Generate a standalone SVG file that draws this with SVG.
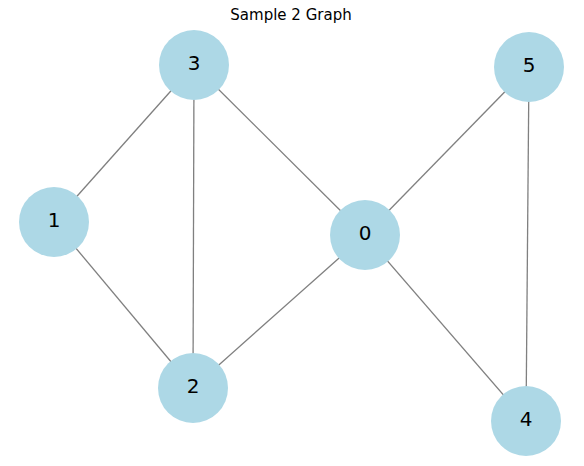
<svg xmlns="http://www.w3.org/2000/svg" width="584" height="466" viewBox="0 0 584 466">
<style>
.title{font-family:"DejaVu Sans",sans-serif;font-size:15px;fill:#000}
.node circle{fill:#add8e6}
.node text{font-family:"DejaVu Sans",sans-serif;font-size:20px;fill:#000;text-anchor:middle}
#edges line{stroke:#808080;stroke-width:1.3}
</style>
<rect width="584" height="466" fill="#fff"/>
<text class="title" x="291" y="19.5" text-anchor="middle">Sample 2 Graph</text>
<g id="edges">
<line x1="194" y1="65" x2="54" y2="222"/>
<line x1="194" y1="65" x2="193" y2="388"/>
<line x1="194" y1="65" x2="365" y2="235"/>
<line x1="54" y1="222" x2="193" y2="388"/>
<line x1="365" y1="235" x2="193" y2="388"/>
<line x1="365" y1="235" x2="529" y2="67"/>
<line x1="365" y1="235" x2="526" y2="421"/>
<line x1="529" y1="67" x2="526" y2="421"/>
</g>
<g id="node0" class="node"><circle cx="365" cy="235" r="35"/><text x="365" y="240">0</text></g>
<g id="node1" class="node"><circle cx="54" cy="222" r="35"/><text x="54" y="227">1</text></g>
<g id="node2" class="node"><circle cx="193" cy="388" r="35"/><text x="193" y="393">2</text></g>
<g id="node3" class="node"><circle cx="194" cy="65" r="35"/><text x="194" y="70">3</text></g>
<g id="node4" class="node"><circle cx="526" cy="421" r="35"/><text x="526" y="426">4</text></g>
<g id="node5" class="node"><circle cx="529" cy="67" r="35"/><text x="529" y="72">5</text></g>
</svg>
